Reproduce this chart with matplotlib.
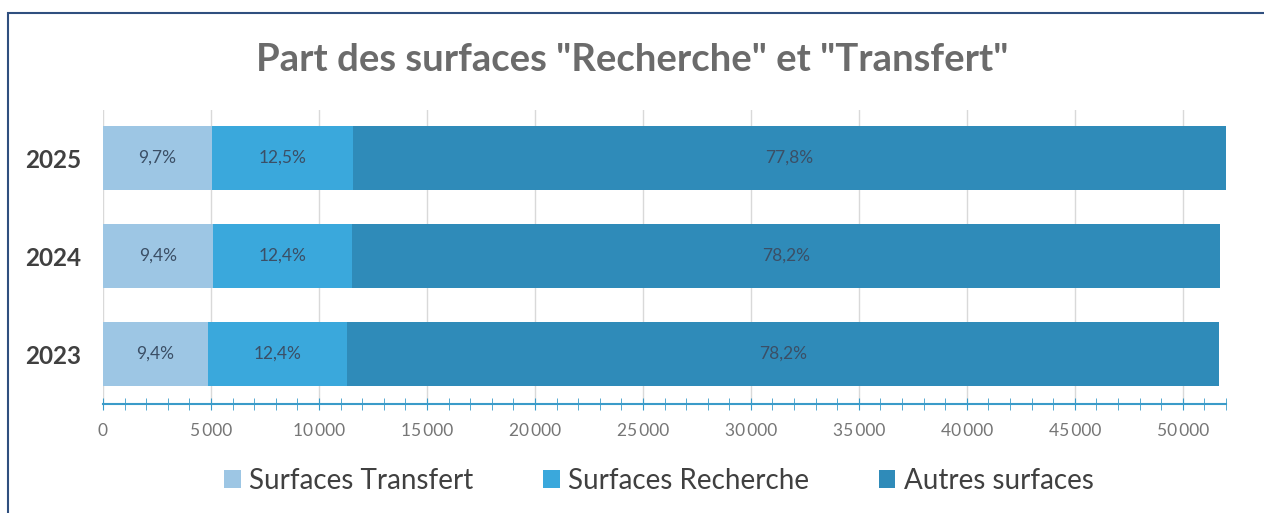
import matplotlib.pyplot as plt
from matplotlib.patches import Rectangle
from matplotlib.ticker import MultipleLocator, FuncFormatter
import numpy as np

plt.rcParams['font.family'] = ['Lato', 'DejaVu Sans']

# data (m2)
years = ['2023', '2024', '2025']
transfert = [4860, 5090, 5050]
recherche = [6430, 6440, 6530]
autres = [40390, 40210, 40420]
labels_transfert = ['9,4%', '9,4%', '9,7%']
labels_recherche = ['12,4%', '12,4%', '12,5%']
labels_autres = ['78,2%', '78,2%', '77,8%']
series_names = ['Surfaces Transfert', 'Surfaces Recherche', 'Autres surfaces']
colors = ['#9dc6e4', '#3aa8dc', '#2f8bb9']

fig = plt.figure(figsize=(12.64, 5.13), dpi=100)
fig.patches.append(Rectangle((8 / 1264, -0.1), 1.1, 1 - 13 / 513 + 0.1,
                             transform=fig.transFigure, fill=False,
                             edgecolor='#2f4f7f', linewidth=1.5))

ax = fig.add_axes([103 / 1264, 1 - 404 / 513, (1226 - 103) / 1264, (404 - 110) / 513])

y = np.arange(len(years))
left = np.zeros(len(years))
all_labels = [labels_transfert, labels_recherche, labels_autres]
for vals, name, col, labs in zip([transfert, recherche, autres], series_names, colors, all_labels):
    bars = ax.barh(y, vals, left=left, height=0.66, color=col, label=name, zorder=2)
    ax.bar_label(bars, labels=labs, label_type='center', color='#3b4f66', fontsize=12.5)
    left += np.array(vals)

ax.set_xlim(0, 52000)
ax.set_ylim(-0.51, 2.49)
ax.set_yticks(y)
ax.set_yticklabels(years, fontsize=17.5, fontweight='bold', color='#404040')
ax.tick_params(axis='y', length=0, pad=16)

ax.xaxis.set_major_locator(MultipleLocator(5000))
ax.xaxis.set_minor_locator(MultipleLocator(1000))
ax.xaxis.set_major_formatter(FuncFormatter(lambda v, p: f"{int(v):,}".replace(',', '\u2009')))
ax.tick_params(axis='x', which='both', direction='inout', length=9, color='#3a9bc9',
               labelsize=12.5, labelcolor='#767676', pad=9)
ax.grid(axis='x', color='#d9d9d9', linewidth=1, zorder=0)

for s in ['top', 'right', 'left']:
    ax.spines[s].set_visible(False)
ax.spines['bottom'].set_color('#3a9bc9')
ax.spines['bottom'].set_linewidth(1.5)

fig.text(0.5, 1 - 60 / 513, 'Part des surfaces "Recherche" et "Transfert"',
         ha='center', va='center', fontsize=27.5, fontweight='bold', color='#6b6b6b')

fig.legend(loc='center', bbox_to_anchor=(659 / 1264, 1 - 481 / 513), ncol=3, frameon=False,
           fontsize=20, labelcolor='#404040', handlelength=0.6, handleheight=0.6,
           handletextpad=0.3, columnspacing=2.5)

fig.savefig('out.png', dpi=100, facecolor='white')
